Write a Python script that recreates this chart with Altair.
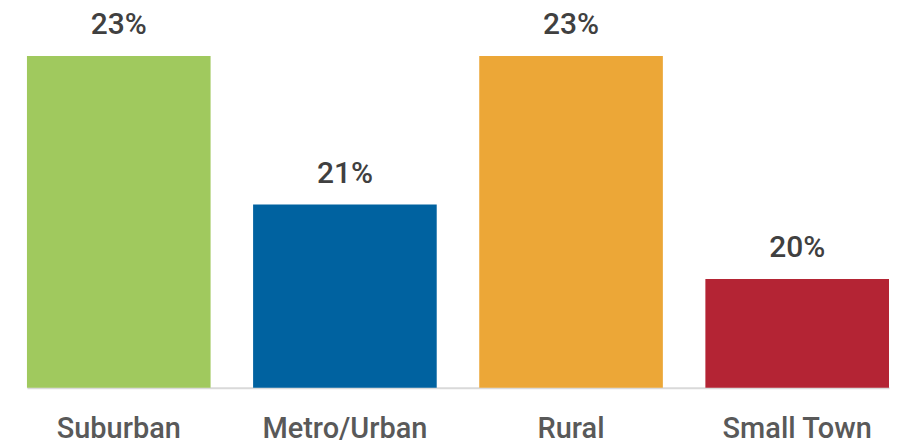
import altair as alt
import pandas as pd

categories = ["Suburban", "Metro/Urban", "Rural", "Small Town"]
values = [23, 21, 23, 20]
colors = ["#a0c95e", "#0062a0", "#eca737", "#b42434"]

df = pd.DataFrame({"category": categories, "value": values})

base = alt.Chart(df).encode(
    x=alt.X(
        "category:N",
        sort=categories,
        scale=alt.Scale(range=[19, 883], paddingInner=0.188, paddingOuter=0),
        axis=alt.Axis(
            title=None,
            labelAngle=0,
            labelFont="Roboto",
            labelFontSize=29,
            labelFontWeight=500,
            labelColor="#595959",
            labelPadding=27,
            ticks=False,
            domainColor="#d9d9d9",
            domainWidth=2,
        ),
    )
)

yscale = alt.Scale(domain=[18.537, 23.638], zero=False, nice=False)

bars = base.mark_bar().encode(
    y=alt.Y("value:Q", scale=yscale, axis=None),
    y2=alt.datum(18.537),
    color=alt.Color("category:N", scale=alt.Scale(domain=categories, range=colors), legend=None),
)

labels = base.mark_text(
    font="Roboto", fontSize=30, fontWeight=500, color="#404040", baseline="alphabetic", dy=-22
).transform_calculate(lbl="datum.value + '%'").encode(
    y=alt.Y("value:Q", scale=yscale, axis=None),
    text="lbl:N",
)

chart = (
    alt.layer(bars, labels)
    .properties(width=882, height=380, padding=0)
    .configure_view(stroke=None)
    .configure_axis(grid=False)
)

chart.save("out.html", embed_options={"renderer": "svg", "actions": False})
